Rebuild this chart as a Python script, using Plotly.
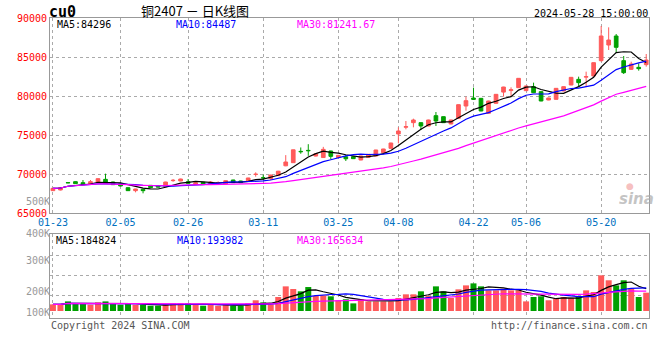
import plotly.graph_objects as go
import pandas as pd

# ---------------- data ----------------
dates = ["01-23","01-24","01-25","01-26","01-29","01-30","01-31",
         "02-01","02-02","02-05","02-06","02-07","02-08","02-19","02-20","02-21","02-22","02-23","02-26","02-27","02-28","02-29",
         "03-01","03-04","03-05","03-06","03-07","03-08","03-11","03-12","03-13","03-14","03-15","03-18","03-19","03-20","03-21","03-22","03-25","03-26","03-27","03-28","03-29",
         "04-01","04-02","04-03","04-08","04-09","04-10","04-11","04-12","04-15","04-16","04-17","04-18","04-19","04-22","04-23","04-24","04-25","04-26","04-29","04-30",
         "05-06","05-07","05-08","05-09","05-10","05-13","05-14","05-15","05-16","05-17","05-20","05-21","05-22","05-23","05-24","05-27","05-28"]

opens = [67864,67950,68900,69018,68889,68761,68975,69317,68975,68761,
         68249,67864,68036,68548,68462,68377,69150,69103,69018,68676,
         68932,68719,68870,68719,69231,69103,69061,69940,69520,69400,
         69790,71050,71454,72900,73030,72300,72110,72950,72110,72200,
         72223,71796,72138,72309,72736,73291,75129,76000,76582,76582,
         76155,77479,77351,76411,77138,78718,79744,79701,77778,79060,
         80500,80700,81069,80684,81197,80556,79488,79573,80641,81411,
         82136,82420,82564,84530,86538,87692,84530,83419,83675,84017]
highs = [68200,68280,68950,69060,69231,69231,69450,70043,69020,68800,
         68280,68100,68060,68580,68500,69000,69360,69400,69359,68920,
         68960,69100,69050,69170,69260,69130,69510,70214,69915,69900,
         70400,72420,73120,73400,73820,72620,73480,72980,72420,72437,
         72260,72330,72540,73100,73230,74000,75984,76795,77095,76620,
         76960,77949,77380,76960,78920,79915,81069,79730,79390,80240,
         81180,81112,82300,81320,81710,80600,79780,81010,81230,82420,
         82479,83120,84300,88974,88803,87948,85128,84402,84188,85384]
lows = [67830,67900,68830,68720,68590,68720,68950,68780,68600,68420,
        67820,67650,67522,68220,68300,68350,69000,69080,68780,68650,
        68650,68700,68780,68700,68860,68860,69040,69659,69231,69230,
        69760,71000,71430,72600,72330,72250,72090,71900,72090,71668,
        71940,71770,72110,72280,72700,73260,73932,75727,75984,75642,
        76130,76155,76550,76380,77110,78120,79487,78050,77750,79030,
        79915,80000,81040,80650,80400,79330,79460,79540,80610,81380,
        81197,81197,82530,84400,85897,85555,82820,83334,83248,83761]
closes = [68163,68249,68870,68761,68676,69018,69402,68804,68633,68462,
          67864,68078,67864,68249,68334,68975,69189,69359,68804,68889,
          68676,68975,68900,69146,68889,68889,69488,69970,69490,69872,
          70360,71540,73100,72860,72990,72590,73160,72260,72395,71950,
          71967,72309,72522,73078,73206,73975,75514,76069,76924,76155,
          76924,76795,76582,76924,78889,79402,79573,78077,79359,80214,
          81150,80800,82265,81282,80428,79360,79745,80983,81197,82393,
          81710,82479,84274,87692,87179,86239,82992,84103,83505,84616]
volumes = [55200,55200,80000,63500,63500,52400,71800,80000,63500,52400,
           63500,52400,52400,44200,44200,55200,63500,63500,63500,55200,
           44200,55200,44200,55200,44200,44200,63500,89200,71800,55200,
           116800,205200,183100,163800,199600,125100,130600,122400,89200,97500,
           63500,97500,80000,80000,80000,80000,108600,138900,138900,163800,
           125100,205200,163800,108600,180300,213400,230000,205200,172000,172000,
           185800,172000,172000,80000,116800,122400,89200,103000,116800,108600,
           122400,172000,158200,297200,255800,213400,255800,185800,116800,152700]

tick_labels = ["01-23","02-05","02-26","03-11","03-25","04-08","04-22","05-06","05-20"]
price_ticks = [65000, 70000, 75000, 80000, 85000, 90000]
vol_tick_labels = ["500K", "400K", "300K", "200K", "100K"]
price_ma_labels = ["MA5:84296", "MA10:84487", "MA30:81241.67"]
vol_ma_labels = ["MA5:184824", "MA10:193982", "MA30:165634"]
header_symbol = "cu0"
header_title = "铜2407 － 日K线图"
header_time = "2024-05-28 15:00:00"
footer_left = "Copyright 2024 SINA.COM"
footer_right = "http://finance.sina.com.cn"

# ---------------- style ----------------
UP = "#FF5A5A"
DOWN = "#00A000"
MA_COLORS = ["#000000", "#0000FF", "#FF00FF"]
GRID = "#AAAAAA"
BORDER = "#999999"
MONO = "DejaVu Sans Mono"

W, H = 660, 360
L, R, T, B = 50, 11, 18, 42
PW, PH = W - L - R, H - T - B


def px(x):
    return (x - L) / PW


def py(y):
    return (H - B - y) / PH


close_s = pd.Series(closes)
vol_s = pd.Series(volumes)
periods = [5, 10, 30]

fig = go.Figure()

fig.add_trace(go.Candlestick(
    x=dates, open=opens, high=highs, low=lows, close=closes,
    increasing=dict(line=dict(color=UP, width=1), fillcolor=UP),
    decreasing=dict(line=dict(color=DOWN, width=1), fillcolor=DOWN),
    whiskerwidth=0, hoverinfo="skip", showlegend=False,
    xaxis="x", yaxis="y"))

for p, c in zip(periods, MA_COLORS):
    fig.add_trace(go.Scatter(
        x=dates, y=close_s.rolling(p, min_periods=1).mean(),
        mode="lines", line=dict(color=c, width=1.2),
        hoverinfo="skip", showlegend=False, xaxis="x", yaxis="y"))

bar_colors = [UP if c >= o else DOWN for o, c in zip(opens, closes)]
fig.add_trace(go.Bar(
    x=dates, y=volumes, marker=dict(color=bar_colors, line=dict(width=0)),
    hoverinfo="skip", showlegend=False, xaxis="x2", yaxis="y2"))

for p, c in zip(periods, MA_COLORS):
    fig.add_trace(go.Scatter(
        x=dates, y=vol_s.rolling(p, min_periods=1).mean(),
        mode="lines", line=dict(color=c, width=1.2),
        hoverinfo="skip", showlegend=False, xaxis="x2", yaxis="y2"))

# invisible trace carrying the volume label axis
label_pos = [318 - 201, 318 - 233, 318 - 260, 318 - 291, 318 - 312]
fig.add_trace(go.Scatter(
    x=[0, 1], y=[0, 128], mode="markers", marker=dict(opacity=0),
    hoverinfo="skip", showlegend=False, xaxis="x3", yaxis="y3"))

grid_common = dict(showgrid=True, gridcolor=GRID, griddash="dot", gridwidth=1,
                   showline=True, linecolor=BORDER, linewidth=1, mirror=True,
                   zeroline=False, ticks="")

xr = [-0.39, 79.37]

fig.update_layout(
    width=W, height=H,
    margin=dict(l=L, r=R, t=T, b=B),
    paper_bgcolor="white", plot_bgcolor="rgba(0,0,0,0)",
    bargap=0.2, showlegend=False, hovermode=False,
    font=dict(family=MONO, size=10, color="#000"),
    xaxis=dict(domain=[0, 1], anchor="y", type="category", range=xr,
               tickvals=tick_labels, ticktext=tick_labels,
               tickfont=dict(family=MONO, size=10, color="#0070C0"),
               rangeslider=dict(visible=False), **grid_common),
    yaxis=dict(domain=[0.35, 1], anchor="x", range=[65000, 90000],
               tickvals=price_ticks, ticktext=[str(v) for v in price_ticks],
               tickfont=dict(family=MONO, size=10, color="#FF0000"),
               **grid_common),
    xaxis2=dict(domain=[0, 1], anchor="y2", type="category", range=xr,
                matches="x", tickvals=tick_labels, showticklabels=False,
                **grid_common),
    yaxis2=dict(domain=[0, 0.28], anchor="x2", range=[-58300, 641300],
                tickvals=[129000, 296000, 462000], showticklabels=False,
                **grid_common),
    xaxis3=dict(domain=[0, 1], anchor="y3", visible=False, range=[0, 1]),
    yaxis3=dict(domain=[0, 128 / PH], anchor="free", position=0,
                range=[0, 128], tickvals=label_pos, ticktext=vol_tick_labels,
                tickfont=dict(family=MONO, size=10, color="#999999"),
                showgrid=False, showline=False, zeroline=False, ticks=""),
)

ann = []


def add(text, x, y, xanchor="left", color="#000", size=10, family=MONO):
    ann.append(dict(text=text, x=px(x), y=py(y), xref="paper", yref="paper",
                    xanchor=xanchor, yanchor="middle", showarrow=False,
                    font=dict(family=family, size=size, color=color)))


add("<b>" + header_symbol + "</b>", 47, 12, size=15)
add(header_title, 195, 10, xanchor="center", size=13, family="Noto Sans CJK SC")
add(header_time, 650, 13, xanchor="right", size=10)
for t, x, c in zip(price_ma_labels, [55, 174, 295], MA_COLORS):
    add(t, x, 24, color=c)
for t, x, c in zip(vol_ma_labels, [54, 175, 295], MA_COLORS):
    add(t, x, 240, color=c)
add(footer_left, 49, 325, color="#555555")
add(footer_right, 650, 325, xanchor="right", color="#555555")
add("<b><i>sina</i></b>", 636, 199, xanchor="center", size=15,
    color="rgba(170,170,170,0.7)", family="DejaVu Sans")
add("●", 630, 186, xanchor="center", size=9, color="rgba(240,150,150,0.6)",
    family="DejaVu Sans")

fig.update_layout(annotations=ann)

fig.write_html("out.html",
               config={"displayModeBar": False, "staticPlot": True},
               post_script="document.body.style.margin='0';document.body.style.overflow='hidden';")
